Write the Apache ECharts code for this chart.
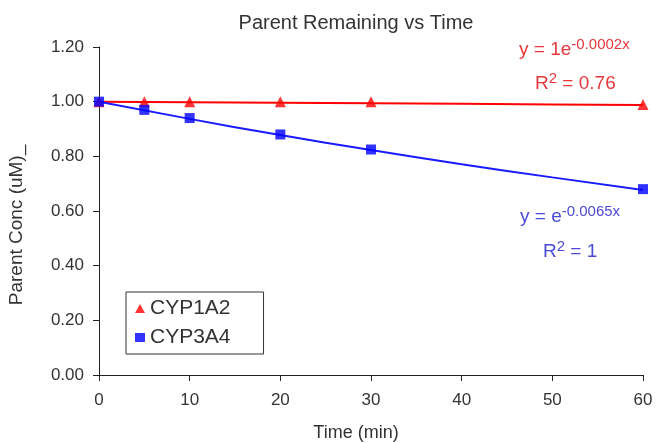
<!DOCTYPE html>
<html><head><meta charset="utf-8">
<script src="https://cdn.jsdelivr.net/npm/echarts@6/dist/echarts.min.js"></script>
<style>html,body{margin:0;padding:0;background:#fff}#c{width:657px;height:443px}</style>
</head><body><div id="c"></div>
<script>
const times = [0, 5, 10, 20, 30, 60];
const cyp1a2 = [1.00, 1.00, 1.00, 1.00, 1.00, 0.99];
const cyp3a4 = [1.00, 0.97, 0.94, 0.88, 0.825, 0.68];
const trendX = [0, 10, 20, 30, 40, 50, 60];
const trend1a2 = [1.00, 0.998, 0.996, 0.994, 0.992, 0.990, 0.988];
const trend3a4 = [1.00, 0.937, 0.878, 0.823, 0.771, 0.723, 0.677];
const xTicks = [0, 10, 20, 30, 40, 50, 60];
const yTicks = [0, 0.2, 0.4, 0.6, 0.8, 1.0, 1.2];

const font = 'Liberation Sans, Arial, sans-serif';
const red = '#e8383d', blue = '#4a4ad8';
const chart = echarts.init(document.getElementById('c'));
const pair = (xs, ys) => xs.map((x, i) => [x, ys[i]]);
const sup = (c, main, s, rest) => ({
  text: '{b|' + main + '}{s|' + s + '}' + (rest ? '{b|' + rest + '}' : ''),
  rich: {
    b: {fontFamily: font, fontSize: 19, fill: c, lineHeight: 24},
    s: {fontFamily: font, fontSize: 15, fill: c, lineHeight: 24, padding: [0, 0, 10, 0]}
  }
});
chart.setOption({
  animation: false,
  textStyle: {fontFamily: font},
  title: {text: 'Parent Remaining vs Time', left: 351, top: 8, textAlign: 'center',
    textStyle: {fontFamily: font, fontSize: 20, fontWeight: 'normal', color: '#333'}},
  grid: {left: 99, right: 14, top: 47, bottom: 68, containLabel: false, outerBoundsMode: 'none'},
  legend: {orient: 'vertical', left: 126, top: 292, itemWidth: 10, itemHeight: 9, itemGap: 8,
    padding: [6, 33, 6, 9], borderColor: '#333', borderWidth: 1, backgroundColor: '#fff',
    textStyle: {fontFamily: font, fontSize: 21, color: '#333'},
    data: [{name: 'CYP1A2', icon: 'triangle'}, {name: 'CYP3A4', icon: 'rect'}]},
  xAxis: {type: 'value', min: xTicks[0], max: xTicks[xTicks.length - 1], interval: 10,
    name: 'Time (min)', nameLocation: 'middle', nameGap: 49,
    nameTextStyle: {fontFamily: font, fontSize: 18, color: '#333', padding: [0, 30, 0, 0]},
    axisLine: {lineStyle: {color: '#222', width: 1}},
    axisTick: {show: true, inside: false, length: 6, lineStyle: {color: '#222'}},
    axisLabel: {fontFamily: font, fontSize: 17, color: '#333', margin: 17},
    splitLine: {show: false}},
  yAxis: {type: 'value', min: yTicks[0], max: yTicks[yTicks.length - 1], interval: 0.2,
    name: 'Parent Conc (uM)_', nameLocation: 'middle', nameGap: 73,
    nameTextStyle: {fontFamily: font, fontSize: 19, color: '#333', padding: [0, 28, 0, 0]},
    axisLine: {show: true, lineStyle: {color: '#222', width: 1}},
    axisTick: {show: true, inside: false, length: 6, lineStyle: {color: '#222'}},
    axisLabel: {fontFamily: font, fontSize: 17, color: '#333', margin: 15, formatter: v => v.toFixed(2)},
    splitLine: {show: false}},
  series: [
    {name: 'trend1', type: 'line', data: pair(trendX, trend1a2), showSymbol: false, symbol: 'none',
      lineStyle: {color: '#ff0000', width: 2}, z: 2},
    {name: 'trend2', type: 'line', data: pair(trendX, trend3a4), showSymbol: false, symbol: 'none', smooth: true,
      lineStyle: {color: '#1a1aff', width: 2}, z: 2},
    {name: 'CYP1A2', type: 'scatter', data: pair(times, cyp1a2), symbol: 'triangle', symbolSize: 11,
      itemStyle: {color: '#ff0000'}, z: 3},
    {name: 'CYP3A4', type: 'scatter', data: pair(times, cyp3a4), symbol: 'rect', symbolSize: 10,
      itemStyle: {color: '#0000ff'}, z: 4}
  ],
  graphic: [
    {type: 'text', left: 519, top: 37, style: sup(red, 'y = 1e', '-0.0002x')},
    {type: 'text', left: 535, top: 71, style: sup(red, 'R', '2', ' = 0.76')},
    {type: 'text', left: 520, top: 204, style: sup(blue, 'y = e', '-0.0065x')},
    {type: 'text', left: 543, top: 239, style: sup(blue, 'R', '2', ' = 1')}
  ]
});
</script></body></html>
